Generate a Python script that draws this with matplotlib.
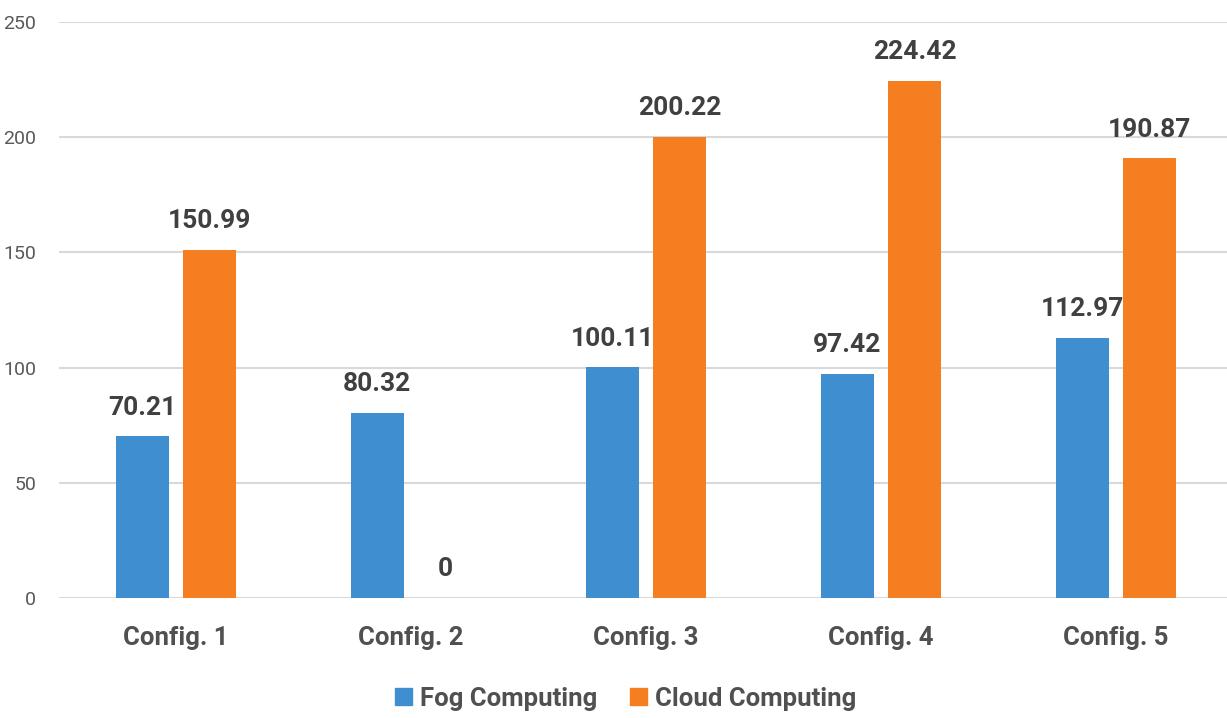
import matplotlib
matplotlib.use("Agg")
import matplotlib.pyplot as plt
from matplotlib.patches import Patch
import numpy as np

configs = ["Config. 1", "Config. 2", "Config. 3", "Config. 4", "Config. 5"]
fog = [70.21, 80.32, 100.11, 97.42, 112.97]
cloud = [150.99, 0, 200.22, 224.42, 190.87]
yticks = [0, 50, 100, 150, 200, 250]

BLUE = "#3F8FD0"
ORANGE = "#F47E20"
GRID = "#D9D9D9"
FONT = ["Roboto", "DejaVu Sans"]

plt.rcParams["font.family"] = FONT

fig = plt.figure(figsize=(12.27, 7.18), dpi=100)
ax = fig.add_axes([0.0477, 0.1671, 0.9576, 0.8022])

x = np.arange(len(configs))
w = 0.225
off = 0.144
b1 = ax.bar(x - off, fog, w, color=BLUE, zorder=3)
b2 = ax.bar(x + off, cloud, w, color=ORANGE, zorder=3)

for bars, vals in ((b1, fog), (b2, cloud)):
    for rect, v in zip(bars, vals):
        ax.annotate(f"{v:g}", (rect.get_x() + rect.get_width() / 2, v),
                    xytext=(0, 12), textcoords="offset points",
                    ha="center", va="bottom", fontsize=19,
                    fontweight="bold", color="#404040")

ax.set_xlim(-0.5, 4.5)
ax.set_ylim(0, 250)
ax.set_yticks(yticks)
ax.set_xticks(x)
ax.set_xticklabels(configs, fontsize=18.5, fontweight="bold", color="#505050")
ax.tick_params(axis="y", labelsize=14, labelcolor="#595959", length=0, pad=16)
ax.tick_params(axis="x", length=0, pad=20)
ax.grid(axis="y", color=GRID, linewidth=1.5, zorder=0)
for s in ax.spines.values():
    s.set_visible(False)

handles = [Patch(color=BLUE, label="Fog Computing"),
           Patch(color=ORANGE, label="Cloud Computing")]
fig.legend(handles=handles, loc="center", bbox_to_anchor=(0.51, 0.027),
           ncol=2, frameon=False, handlelength=0.65, handleheight=0.65,
           handletextpad=0.3, columnspacing=1.3,
           prop={"size": 18.5, "weight": "bold", "family": FONT},
           labelcolor="#505050")

fig.savefig("out.png", dpi=100)
